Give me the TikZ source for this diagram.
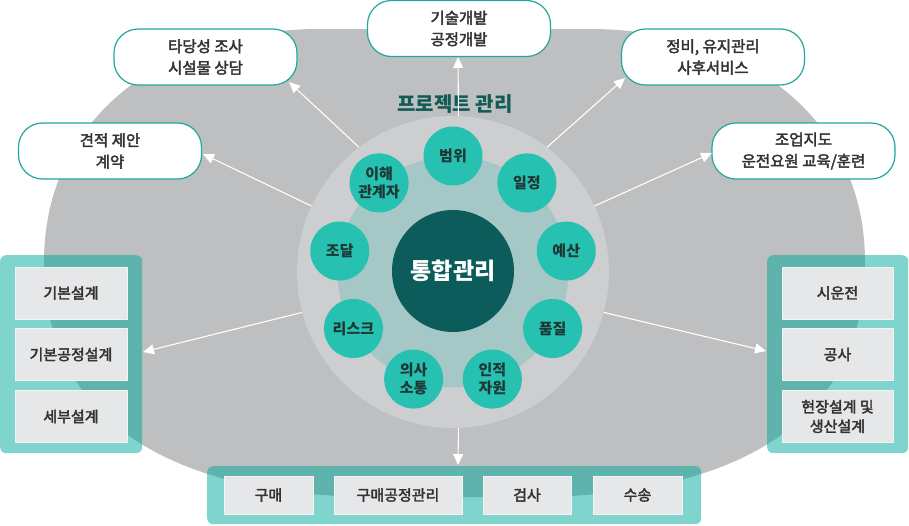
\documentclass[tikz,border=0pt]{standalone}
\usepackage{fontspec}
\setmainfont{Noto Sans CJK KR}
\newfontface\medfont{Noto Sans CJK KR}[FakeBold=2.5]
\usetikzlibrary{arrows.meta,calc}
\definecolor{bggray}{RGB}{190,191,193}
\definecolor{ringgray}{RGB}{205,206,208}
\definecolor{innerring}{RGB}{165,199,197}
\definecolor{darkteal}{RGB}{11,92,90}
\definecolor{circteal}{RGB}{38,193,177}
\definecolor{panelteal}{RGB}{0,169,155}
\definecolor{boxline}{RGB}{32,168,155}
\definecolor{boxfill}{RGB}{230,231,233}
\definecolor{txt}{RGB}{51,51,51}
\definecolor{circtxt}{RGB}{30,55,53}
\definecolor{titlecol}{RGB}{18,91,85}
\tikzset{
  topbox/.style={draw=boxline, line width=1.2pt, fill=white, rounded corners=24pt,
    minimum width=183pt, minimum height=56pt, align=center, inner sep=0pt,
    font=\medfont\fontsize{15.5}{21.5}\selectfont, text=txt},
  panel/.style={fill=panelteal, fill opacity=0.5, rounded corners=6pt, inner sep=0pt},
  itembox/.style={fill=boxfill, draw=white!50!boxfill, line width=0.8pt,
    minimum height=52pt, align=center, inner sep=0pt,
    font=\medfont\fontsize{15}{19.5}\selectfont, text=txt},
  smallc/.style={circle, fill=circteal, minimum size=59pt, inner sep=0pt, align=center,
    font=\bfseries\fontsize{15}{17.5}\selectfont, text=circtxt},
  arr/.style={draw=white, line width=1.1pt, -{Triangle[length=11pt,width=10pt]}}
}
\begin{document}
\begin{tikzpicture}[x=1pt,y=-1pt]
\useasboundingbox (0,0) rectangle (909,525);
% background shape
\fill[bggray] (320,29) -- (589,29) .. controls (749,29) and (865,120) .. (865,262)
  .. controls (865,420) and (739,497) .. (529,497) -- (380,497)
  .. controls (170,497) and (44,420) .. (44,262)
  .. controls (44,120) and (160,29) .. (320,29) -- cycle;
% panels
\node[panel, minimum width=142pt, minimum height=198pt, anchor=north west] (lp) at (0,255) {};
\node[panel, minimum width=141pt, minimum height=198pt, anchor=north west] (rp) at (767,255) {};
\node[panel, minimum width=494pt, minimum height=58pt, anchor=north west] (bp) at (207,466) {};
% left items
\node[itembox, minimum width=112pt] (l1) at (71,293) {기본설계};
\node[itembox, minimum width=112pt] (l2) at (71,354.5) {기본공정설계};
\node[itembox, minimum width=112pt] (l3) at (71,416.5) {세부설계};
% right items
\node[itembox, minimum width=111pt] (r1) at (837.5,293) {시운전};
\node[itembox, minimum width=111pt] (r2) at (837.5,354.5) {공사};
\node[itembox, minimum width=111pt] (r3) at (837.5,416.5) {현장설계 및\\생산설계};
% bottom items
\node[itembox, minimum width=89pt, minimum height=38pt] (b1) at (268.5,495) {구매};
\node[itembox, minimum width=128pt, minimum height=38pt] (b2) at (398,495) {구매공정관리};
\node[itembox, minimum width=88pt, minimum height=38pt] (b3) at (527,495) {검사};
\node[itembox, minimum width=89pt, minimum height=38pt] (b4) at (637.5,495) {수송};
% project circle
\node[circle, fill=ringgray, minimum size=312pt, inner sep=0pt] (pm) at (453,272) {};
\node[circle, fill=innerring, minimum size=231pt, inner sep=0pt] (ir) at (453,272) {};
\node[circle, fill=darkteal, minimum size=122pt, inner sep=0pt, text=white,
  font=\bfseries\fontsize{23}{26}\selectfont] (core) at (453,271) {통합관리};
\foreach \a/\t/\n in {90/범위/1, 50/일정/2, 10/예산/3, -30/품질/4, -70/인적\\자원/5,
  -110/의사\\소통/6, -150/리스크/7, 170/조달/8, 130/이해\\관계자/9}{
  \node[smallc] (s\n) at ($(core)+(-\a:115)$) {\t};
}
\node[text=titlecol, font=\bfseries\fontsize{20}{24}\selectfont] (title) at (455,104) {프로젝트 관리};
% top boxes
\node[topbox] (t1) at (110,151) {견적 제안\\계약};
\node[topbox] (t2) at (205.5,57) {타당성 조사\\시설물 상담};
\node[topbox] (t3) at (459,28.5) {기술개발\\공정개발};
\node[topbox] (t4) at (713,57) {정비, 유지관리\\사후서비스};
\node[topbox] (t5) at (803.5,151) {조업지도\\운전요원 교육/훈련};
% arrow tips
\coordinate (e1) at (203,154);
\coordinate (e2) at (289,82);
\coordinate (e3) at (458,57);
\coordinate (e4) at (625,78);
\coordinate (e5) at (712,153);
\coordinate (e6) at (143,352);
\coordinate (e7) at (766,351);
\coordinate (e8) at (458,465);
\draw[arr] (pm.155) -- (e1);
\draw[arr] (pm.127) -- (e2);
\draw[arr] (pm.88) -- (e3);
\draw[arr] (pm.53) -- (e4);
\draw[arr] (pm.25) -- (e5);
\draw[arr] (pm.195) -- (e6);
\draw[arr] (pm.345) -- (e7);
\draw[arr] (pm.272) -- (e8);
\end{tikzpicture}
\end{document}
